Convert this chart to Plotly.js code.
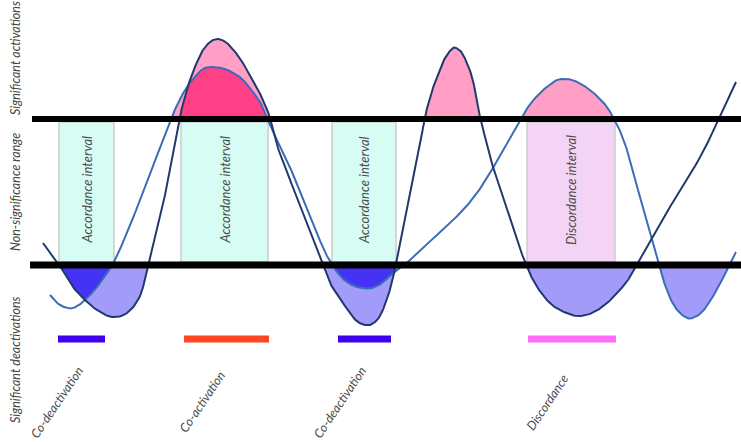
<!DOCTYPE html>
<html><head><meta charset="utf-8">
<script src="https://cdn.plot.ly/plotly-3.0.1.min.js"></script>
<style>html,body{margin:0;padding:0;background:#fff}#chart{width:741px;height:442px}</style>
</head><body><div id="chart"></div>
<script>
// Values (horizontal position, vertical level; level axis points downward)
const darkX = [43,52,60,73,85,97,112,127,140,148,156,164,173,178,184,190,197,203,210,217,224,230,239,247,255,263,270,278,292,300,310,322,330,343,352,358,365,372,380,388,393,396,400,405,410,415,420,425,431,437,442,447,453,458,462,467,472,476,480,484,490,498,508,517,525,533,542,552,564,578,592,606,618,628,637,650,663,683,703,718,736];
const darkY = [243,255,266,287,300,310,317,313,296,266,235,200,152,125,100,80,62,50,42,39,41,46,57,70,84,100,118,148,185,205,232,262,283,303,316,322,325,324,316,296,278,264,245,220,193,168,145,117,94,77,64,55,48,49,53,63,77,95,117,133,157,182,212,240,262,280,294,305,312,316,313,304,292,280,263,241,218,186,152,120,82];
const blueX = [50,55,60,67,73,79,85,91,97,105,113,124,135,146,156,164,171,178,185,193,203,213,225,237,245,253,260,265,270,276,283,292,300,308,315,324,333,342,352,362,372,382,392,400,410,423,437,450,464,477,490,503,513,523,531,540,548,557,565,572,581,590,599,607,613,620,627,638,650,658,665,671,678,687,695,703,712,722,730,736];
const blueY = [295,301,305,308,308,305,300,294,287,276,264,240,213,185,158,138,119,103,90,79,69,67,69,75,82,92,102,113,125,138,152,172,192,211,228,250,266,278,285,288,288,283,274,268,260,247,235,223,209,193,173,150,132,115,103,93,86,80,79,80,84,90,98,107,117,131,150,190,233,263,285,300,311,318,317,311,298,280,263,252];
const upperThreshold = 119;
const lowerThreshold = 265;
const intervalLabels = ["Accordance interval","Accordance interval","Accordance interval","Discordance interval"];
const intervalStart = [59,181,332,527];
const intervalEnd = [114,268,396,615];
const intervalKind = ["accord","accord","accord","discord"];
const markerLabels = ["Co-deactivation","Co-activation","Co-deactivation","Discordance"];
const markerStart = [58,184,338,528];
const markerEnd = [105,269,391,616];
const markerKind = ["codeact","coact","codeact","discord"];
const zoneLabels = ["Significant activations","Non-significance range","Significant deactivations"];
const zoneCenters = [58,192,360];

// styles
const DARK = "#1f3a6b", BLUE = "#3b6cb5";
const markerColor = {codeact:"#3f00ee", coact:"#ff4522", discord:"#ff6ef8"};
const intervalFill = {accord:"#d6fcf4", discord:"#f3d4f4"};
const FONT = "Lato, 'Open Sans', sans-serif";

function dense(xs, ys, n) {
  const px = [], py = [], L = xs.length;
  for (let i = 0; i < L - 1; i++) {
    const i0 = Math.max(i - 1, 0), i3 = Math.min(i + 2, L - 1);
    for (let s = 0; s < n; s++) {
      const t = s / n, t2 = t * t, t3 = t2 * t;
      const f = (a, b, c, d) => 0.5 * ((2 * b) + (-a + c) * t + (2 * a - 5 * b + 4 * c - d) * t2 + (-a + 3 * b - 3 * c + d) * t3);
      px.push(f(xs[i0], xs[i], xs[i + 1], xs[i3]));
      py.push(f(ys[i0], ys[i], ys[i + 1], ys[i3]));
    }
  }
  px.push(xs[L - 1]); py.push(ys[L - 1]);
  return {x: px, y: py};
}
const D = dense(darkX, darkY, 10), B = dense(blueX, blueY, 10);
function at(c, x) {
  const X = c.x, Y = c.y;
  if (x <= X[0]) return Y[0];
  if (x >= X[X.length - 1]) return Y[Y.length - 1];
  for (let i = 0; i < X.length - 1; i++) {
    if (x >= X[i] && x <= X[i + 1]) {
      const d = X[i + 1] - X[i];
      return d === 0 ? Y[i] : Y[i] + (Y[i + 1] - Y[i]) * (x - X[i]) / d;
    }
  }
  return Y[Y.length - 1];
}
const fd = x => at(D, x), fb = x => at(B, x);
function region(a, b, fn, thr, up, color) {
  const xs = [], ys = [];
  for (let x = a; x <= b; x += 0.5) {
    const v = fn(x);
    xs.push(x); ys.push(up ? Math.min(v, thr) : Math.max(v, thr));
  }
  xs.push(b, a); ys.push(thr, thr);
  return {x: xs, y: ys, type: "scatter", mode: "lines", fill: "toself", fillcolor: color, line: {width: 0}, hoverinfo: "skip"};
}
const LP = "#ff9fc5", HP = "#ff3f86", LV = "#a39bfa", DV = "#4433f5";
const traces = [
  region(160, 280, x => Math.min(fd(x), fb(x)), upperThreshold, true, LP),
  region(160, 280, x => Math.max(fd(x), fb(x)), upperThreshold, true, HP),
  region(415, 490, fd, upperThreshold, true, LP),
  region(505, 625, fb, upperThreshold, true, LP),
  region(43, 155, fd, lowerThreshold, false, LV),
  region(50, 120, x => Math.min(fd(x), fb(x)), lowerThreshold, false, DV),
  region(315, 415, x => Math.max(fd(x), fb(x)), lowerThreshold, false, LV),
  region(315, 415, x => Math.min(fd(x), fb(x)), lowerThreshold, false, DV),
  region(515, 645, fd, lowerThreshold, false, LV),
  region(650, 736, fb, lowerThreshold, false, LV),
  {x: B.x, y: B.y, type: "scatter", mode: "lines", line: {color: BLUE, width: 2}, hoverinfo: "skip"},
  {x: D.x, y: D.y, type: "scatter", mode: "lines", line: {color: DARK, width: 2}, hoverinfo: "skip"}
];

const shapes = [];
const annotations = [];
intervalStart.forEach((s, i) => {
  shapes.push({type: "rect", layer: "below", x0: s, x1: intervalEnd[i], y0: upperThreshold + 3, y1: lowerThreshold - 3,
    fillcolor: intervalFill[intervalKind[i]], line: {color: "#cbcbcb", width: 1.5}});
  annotations.push({x: (s + intervalEnd[i]) / 2, y: (upperThreshold + lowerThreshold) / 2 - 2, text: intervalLabels[i],
    textangle: -90, showarrow: false, xanchor: "center", yanchor: "middle",
    font: {family: FONT, size: 13, color: "#4a4a4a", style: "italic"}});
});
shapes.push({type: "line", x0: 32, x1: 741, y0: upperThreshold, y1: upperThreshold, line: {color: "#000", width: 6}});
shapes.push({type: "line", x0: 30, x1: 741, y0: lowerThreshold, y1: lowerThreshold, line: {color: "#000", width: 7}});
markerStart.forEach((s, i) => {
  shapes.push({type: "rect", x0: s, x1: markerEnd[i], y0: 335.5, y1: 342.5, fillcolor: markerColor[markerKind[i]], line: {width: 0}});
  annotations.push({x: (s + markerEnd[i]) / 2 - 25, y: 402, text: markerLabels[i], textangle: -56, showarrow: false,
    xanchor: "center", yanchor: "middle", font: {family: FONT, size: 12.5, color: "#4a4a4a", style: "italic"}});
});
zoneLabels.forEach((t, i) => {
  annotations.push({x: 15, y: zoneCenters[i], text: t, textangle: -90, showarrow: false, xanchor: "center", yanchor: "middle",
    font: {family: FONT, size: 12.5, color: "#444", style: "italic"}});
});

const layout = {
  width: 741, height: 442, margin: {l: 0, r: 0, t: 0, b: 0},
  paper_bgcolor: "#fff", plot_bgcolor: "#fff", showlegend: false,
  xaxis: {range: [0, 741], visible: false, fixedrange: true},
  yaxis: {range: [442, 0], visible: false, fixedrange: true},
  shapes: shapes, annotations: annotations
};
Plotly.newPlot("chart", traces, layout, {staticPlot: true, displayModeBar: false});
</script></body></html>
